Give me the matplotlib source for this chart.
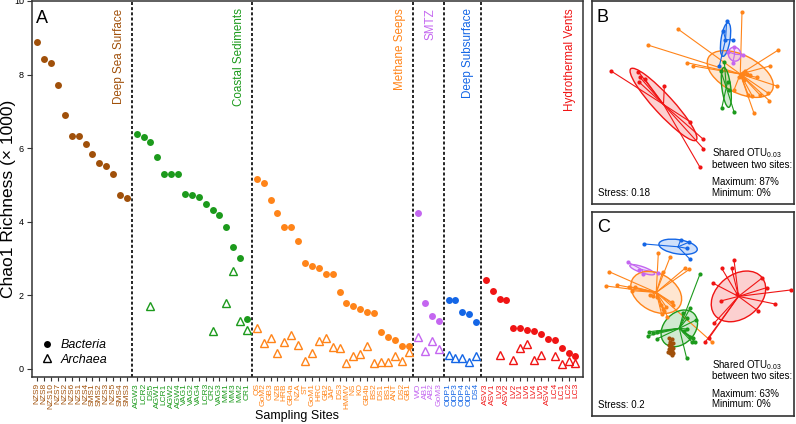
import numpy as np
import matplotlib
matplotlib.use('Agg')
import matplotlib.pyplot as plt
from matplotlib.patches import Ellipse
from matplotlib.lines import Line2D

plt.rcParams['font.family'] = ['Liberation Sans', 'DejaVu Sans']
plt.rcParams['mathtext.fontset'] = 'custom'
plt.rcParams['mathtext.rm'] = 'Liberation Sans'
plt.rcParams['mathtext.it'] = 'Liberation Sans:italic'

nan = np.nan
group_names = ['Deep Sea Surface', 'Coastal Sediments', 'Methane Seeps', 'SMTZ',
               'Deep Subsurface', 'Hydrothermal Vents']
group_colors = ['#A0500A', '#1C9A1C', '#FF8419', '#C466F0', '#1466E6', '#F01414']

# ---------------- Panel A data (Chao1 richness x 1000) ----------------
dss_sites = ['NZS9', 'NZS8', 'NZS10', 'NZS7', 'NZS2', 'NZS6', 'NZS1', 'NZS4', 'SMS1',
             'SMS2', 'NZS3', 'NZS5', 'SMS4', 'SMS3']
dss_bact = [8.88, 8.43, 8.32, 7.71, 6.89, 6.34, 6.32, 6.11, 5.85, 5.60, 5.52, 5.29, 4.73, 4.65]
dss_arch = [nan, nan, nan, nan, nan, nan, nan, nan, nan, nan, nan, nan, nan, nan]

cs_sites = ['AGW3', 'LCR2', 'DS5', 'AGW1', 'LCR1', 'AGW2', 'AGW4', 'VAG1', 'VAG2', 'VAG4',
            'LCR3', 'CR2', 'VAG3', 'MM1', 'MM3', 'MM2', 'CR1']
cs_bact = [6.39, 6.30, 6.16, 5.75, 5.29, 5.29, 5.29, 4.76, 4.74, 4.67, 4.49, 4.32, 4.17,
           3.87, 3.32, 3.02, 1.36]
cs_arch = [nan, nan, 1.72, nan, nan, nan, nan, nan, nan, nan, nan, 1.02, nan, 1.79, 2.65,
           1.30, 1.07]

ms_sites = ['QS', 'GoM2', 'GB3', 'NZB', 'HRB', 'GB4a', 'NZA', 'ST', 'GoM1', 'HRC', 'GB2',
            'JAP', 'DS3', 'HMMV', 'NS', 'KO', 'GB4b', 'BS2', 'DS1', 'BS1', 'ANT', 'DS2', 'GB1']
ms_bact = [5.16, 5.05, 4.58, 4.23, 3.87, 3.86, 3.48, 2.87, 2.79, 2.75, 2.57, 2.57, 2.08,
           1.79, 1.72, 1.62, 1.55, 1.51, 0.99, 0.86, 0.79, 0.63, 0.61]
ms_arch = [1.12, 0.71, 0.83, 0.43, 0.73, 0.93, 0.64, 0.21, 0.43, 0.77, 0.85, 0.59, 0.56,
           0.17, 0.35, 0.41, 0.61, 0.15, 0.20, 0.20, 0.36, 0.21, 0.47]

smtz_sites = ['WO', 'AB1', 'AB2', 'GoM3']
smtz_bact = [4.25, 1.79, 1.45, 1.30]
smtz_arch = [0.88, 0.49, 0.77, 0.54]

dsub_sites = ['ODP1', 'ODP3', 'ODP4', 'ODP2', 'DS4']
dsub_bact = [1.88, 1.86, 1.56, 1.49, 1.27]
dsub_arch = [0.38, 0.29, 0.29, 0.20, 0.36]

hv_sites = ['ASV3', 'ASV1', 'LV3', 'ASV2', 'LV2', 'LV1', 'LV6', 'LV4', 'LV5', 'ASV4', 'LC4',
            'LC1', 'LC2', 'LC3']
hv_bact = [2.41, 2.11, 1.90, 1.86, 1.11, 1.10, 1.06, 1.04, 0.96, 0.82, 0.78, 0.56, 0.43, 0.36]
hv_arch = [nan, nan, 0.39, nan, 0.24, 0.58, 0.67, 0.24, 0.38, nan, 0.35, 0.13, 0.22, 0.17]

all_sites = [dss_sites, cs_sites, ms_sites, smtz_sites, dsub_sites, hv_sites]
all_bact = [dss_bact, cs_bact, ms_bact, smtz_bact, dsub_bact, hv_bact]
all_arch = [dss_arch, cs_arch, ms_arch, smtz_arch, dsub_arch, hv_arch]

# ---------------- Panels B / C data (NMDS scores, arbitrary units) ----------------
# B: Archaea
B_red = [(63, 213), (145, 215), (150, 232), (165, 238), (148, 247), (223, 258), (300, 365),
         (340, 418), (340, 446), (330, 502)]
B_orange = [(456, 35), (265, 88), (173, 135), (290, 188), (310, 198), (565, 150), (540, 198),
            (500, 232), (560, 258), (432, 270), (475, 285), (510, 285), (535, 280), (538, 302),
            (492, 340), (465, 212), (460, 218), (470, 222), (455, 228), (480, 225), (487, 288),
            (448, 232), (462, 240)]
B_blue = [(410, 62), (400, 93), (405, 120), (430, 120), (388, 198)]
B_purple = [(432, 140), (460, 165), (415, 155), (428, 190)]
B_green = [(403, 186), (392, 212), (413, 245), (418, 270), (395, 325), (432, 335)]

# C: Bacteria
C_blue = [(163, 117), (272, 105), (296, 112), (290, 130), (300, 163)]
C_purple = [(115, 172), (148, 196), (158, 206), (205, 203)]
C_orange = [(205, 143), (240, 157), (285, 190), (298, 193), (218, 200), (57, 200), (48, 243),
            (82, 240), (118, 245), (125, 257), (135, 247), (180, 270), (190, 272), (200, 276),
            (212, 300), (218, 312), (228, 305), (215, 328), (222, 318), (245, 292), (250, 300),
            (232, 335), (365, 410)]
C_green = [(330, 207), (300, 310), (280, 325), (292, 340), (318, 345), (178, 380), (188, 383),
           (200, 382), (175, 392), (200, 402), (290, 460), (300, 395), (305, 410), (315, 410),
           (310, 400), (282, 378), (290, 372)]
C_brown = [(238, 398), (245, 402), (240, 410), (248, 415), (236, 420), (244, 425), (250, 430),
           (238, 432), (245, 438), (240, 445), (250, 445), (235, 440), (246, 450), (242, 420)]
C_red = [(432, 165), (395, 190), (425, 190), (370, 235), (515, 220), (530, 248), (602, 255),
         (555, 297), (392, 288), (505, 318), (372, 355), (345, 412), (358, 398), (440, 268)]

W, H = 796, 424
fig = plt.figure(figsize=(W / 100, H / 100), dpi=100)

def px_rect(x0, y0, x1, y1):
    return [x0 / W, 1 - y1 / H, (x1 - x0) / W, (y1 - y0) / H]

spine_col = '#333333'

# ---------------- Panel A ----------------
axA = fig.add_axes(px_rect(31.7, 1, 583, 377))
gap = 0.4
offset = 0.0
tick_pos, tick_lab, tick_col = [], [], []
boundaries = []
for g in range(6):
    n = len(all_sites[g])
    x = offset + np.arange(n)
    col = group_colors[g]
    axA.plot(x, all_bact[g], 'o', ms=5, color=col, mec=col, mew=0, zorder=3)
    axA.plot(x, all_arch[g], '^', ms=5.3, mfc='none', mec=col, mew=1.0, zorder=3)
    tick_pos += list(x)
    tick_lab += all_sites[g]
    tick_col += [col] * n
    offset = x[-1] + 1 + gap
    boundaries.append(x[-1] + (1 + gap) / 2)

xmin, xmax = -0.81, 79.09
axA.set_xlim(xmin, xmax)
axA.set_ylim(-0.22, 10.0)
for b in boundaries[:-1]:
    axA.axvline(b, color='black', lw=1.2, ls=(0, (1.8, 1.3)), zorder=1)

label_x = [b - 1.88 for b in boundaries[:-1]] + [xmax - 1.88]
for g in range(6):
    axA.text(label_x[g], 9.80, group_names[g], rotation=90, ha='center', va='top',
             color=group_colors[g], fontsize=8.4)

axA.set_xticks(tick_pos)
axA.set_xticklabels(tick_lab, rotation=90, fontsize=6)
for lab, c in zip(axA.get_xticklabels(), tick_col):
    lab.set_color(c)
axA.tick_params(axis='x', direction='out', length=3, width=0.8, pad=1.5, color=spine_col)
axA.set_yticks([0, 2, 4, 6, 8, 10])
axA.tick_params(axis='y', direction='out', length=3.5, width=0.8, pad=2, labelsize=6.5,
                color=spine_col)
for s in axA.spines.values():
    s.set_color(spine_col)
    s.set_linewidth(1.1)

leg_handles = [Line2D([], [], marker='o', ls='', ms=5, color='black', mew=0),
               Line2D([], [], marker='^', ls='', ms=5.3, mfc='none', mec='black', mew=1.0)]
axA.legend(leg_handles, ['Bacteria', 'Archaea'], loc='lower left',
           bbox_to_anchor=(0.0165, 0.030), frameon=False, borderpad=0, borderaxespad=0,
           handlelength=1.0, handletextpad=0.55, labelspacing=0.2,
           prop={'style': 'italic', 'size': 9})

fig.text(36 / W, 1 - 22.7 / H, 'A', fontsize=13, va='baseline', ha='left')
fig.text(296.7 / W, 1 - 419 / H, 'Sampling Sites', fontsize=9, va='baseline', ha='center')
fig.text(9 / W, 1 - 199 / H, 'Chao1 Richness (× 1000)', fontsize=12.5, rotation=90,
         va='center', ha='center')

# ---------------- Panels B and C ----------------
def spider(ax, pts, col):
    pts = np.asarray(pts, dtype=float)
    c = pts.mean(axis=0)
    cov = np.cov(pts.T)
    vals, vecs = np.linalg.eigh(cov)
    order = np.argsort(vals)[::-1]
    vals, vecs = vals[order], vecs[:, order]
    ang = np.degrees(np.arctan2(vecs[1, 0], vecs[0, 0]))
    e = Ellipse(c, 2 * np.sqrt(vals[0]), 2 * np.sqrt(vals[1]), angle=ang,
                facecolor=col, alpha=0.2, edgecolor='none', zorder=1)
    ax.add_patch(e)
    e2 = Ellipse(c, 2 * np.sqrt(vals[0]), 2 * np.sqrt(vals[1]), angle=ang,
                 facecolor='none', edgecolor=col, lw=1.0, zorder=2)
    ax.add_patch(e2)
    for p in pts:
        ax.plot([c[0], p[0]], [c[1], p[1]], color=col, lw=0.8, zorder=2)
    ax.plot(pts[:, 0], pts[:, 1], 'o', ms=3, color=col, mew=0, zorder=3)

axB = fig.add_axes(px_rect(591.7, 1, 794, 204.3))
axB.set_xlim(5, 612)
axB.set_ylim(613, 3)
for pts, col in [(B_red, group_colors[5]), (B_orange, group_colors[2]),
                 (B_green, group_colors[1]), (B_blue, group_colors[4]),
                 (B_purple, group_colors[3])]:
    spider(axB, pts, col)

axC = fig.add_axes(px_rect(591.7, 212.3, 794, 415.7))
axC.set_xlim(5, 612)
axC.set_ylim(632, 22)
for pts, col in [(C_red, group_colors[5]), (C_blue, group_colors[4]),
                 (C_purple, group_colors[3]), (C_orange, group_colors[2]),
                 (C_green, group_colors[1]), (C_brown, group_colors[0])]:
    spider(axC, pts, col)

for ax in (axB, axC):
    ax.set_xticks([])
    ax.set_yticks([])
    for s in ax.spines.values():
        s.set_color(spine_col)
        s.set_linewidth(1.2)

fig.text(596.7 / W, 1 - 21.7 / H, 'B', fontsize=13, va='baseline')
fig.text(596.7 / W, 1 - 231.7 / H, 'C', fontsize=13, va='baseline')
fs = 7
for y0, stress, mx in [(0, '0.18', '87%'), (211.5, '0.2', '63%')]:
    fig.text(598.3 / W, 1 - (y0 + 196) / H, 'Stress: ' + stress, fontsize=fs, va='baseline')
    fig.text(711.7 / W, 1 - (y0 + 156.7) / H, r'Shared OTU$_{\mathregular{0.03}}$',
             fontsize=fs, va='baseline')
    fig.text(711.7 / W, 1 - (y0 + 167.7) / H, 'between two sites:', fontsize=fs, va='baseline')
    fig.text(711.7 / W, 1 - (y0 + 185.3) / H, 'Maximum: ' + mx, fontsize=fs, va='baseline')
    fig.text(711.7 / W, 1 - (y0 + 195.7) / H, 'Minimum: 0%', fontsize=fs, va='baseline')

fig.savefig('out.png', dpi=100)
